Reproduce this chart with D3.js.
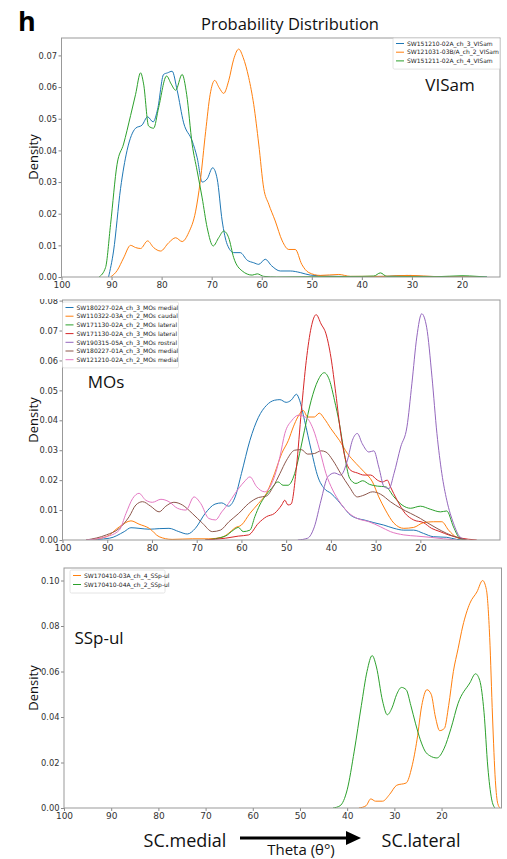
<!DOCTYPE html>
<html>
<head>
<meta charset="utf-8">
<script src="https://cdn.jsdelivr.net/npm/d3@7"></script>
<style>
  body { margin: 0; background: #fff; }
  text { font-family: "DejaVu Sans", sans-serif; }
  .big { font-family: "Open Sans", sans-serif; }
</style>
</head>
<body>
<div class="canvas"></div>
<script>
/* ----------- DATA ----------- */
// x tick labels (theta, degrees), same on every panel
const thetaTicks = [100, 90, 80, 70, 60, 50, 40, 30, 20];

// VISam panel: [theta, density]
const visamNames = ['SW151210-02A_ch_3_VISam', 'SW121031-03B/A_ch_2_VISam', 'SW151211-02A_ch_4_VISam'];
const visam151210 = [[90.6,0],[89.6,0.0082],[88.2,0.028],[86.9,0.040],[85.2,0.047],[83.9,0.048],[82.8,0.0506],[81.7,0.049],
  [80.8,0.053],[79.6,0.064],[78.8,0.0645],[77.9,0.065],[76.9,0.059],[75.6,0.0487],[73.9,0.043],[72.9,0.0377],[71.9,0.030],
  [70.9,0.031],[69.8,0.0345],[68.9,0.031],[67.9,0.0177],[66.9,0.0103],[65.6,0.0077],[64.3,0.0077],[62.9,0.0053],[61.6,0.0045],
  [60.6,0.004],[59.3,0.0056],[58.0,0.0035],[56.3,0.0019],[54.3,0.0019],[52.3,0.0014],[50.3,0.0006],[47,0.0003],[45,0.0002],
  [40,0.0001],[35,0.0002],[31,0.0005],[28,0.0002],[22,0.0001],[15,0]];
const visam121031 = [[90.2,0],[88.9,0.002],[87.6,0.006],[86.2,0.010],[85.2,0.0093],[84.2,0.009],[82.8,0.0114],[81.6,0.0093],
  [80.2,0.0082],[78.6,0.0108],[77.2,0.0124],[75.9,0.0112],[74.6,0.014],[73.2,0.0208],[72.3,0.030],[71.2,0.046],[70.3,0.0577],
  [69.4,0.0621],[68.5,0.0598],[67.6,0.058],[66.6,0.062],[65.6,0.0688],[64.6,0.072],[63.7,0.0693],[62.6,0.063],[61.6,0.0545],
  [60.6,0.042],[59.6,0.028],[58.6,0.023],[57.3,0.0177],[55.9,0.0114],[54.6,0.0087],[53.3,0.0087],[52.0,0.004],[50.6,0.0014],
  [48.3,0.0005],[44.6,0.0008],[42.3,0.0002],[36,0.0002],[33,0.0004],[30.3,0.0005],[25,0.0001],[17,0]];
const visam151211 = [[92.5,0],[91.2,0.003],[90.2,0.0166],[88.9,0.0356],[87.6,0.042],[86.2,0.051],[85.2,0.0577],[84.2,0.0645],
  [83.6,0.061],[82.6,0.0477],[81.6,0.047],[80.6,0.0535],[79.0,0.0635],[78.1,0.061],[77.2,0.059],[75.9,0.064],[75.0,0.0577],
  [73.9,0.042],[72.9,0.0335],[71.9,0.025],[70.9,0.0156],[69.7,0.0098],[68.6,0.0124],[67.6,0.0145],[66.6,0.0124],[65.6,0.0061],
  [63.9,0.0019],[61.9,0.0006],[60.9,0.001],[59.6,0.0002],[57,0],[50,0.0001],[40,0.0002],[37.6,0.0003],[36.3,0.0013],
  [35,0.0002],[25,0.0001],[20,0.0004],[17,0.0002],[15,0]];

// MOs panel
const mosNames = ['SW180227-02A_ch_3_MOs medial', 'SW110322-03A_ch_2_MOs caudal', 'SW171130-02A_ch_2_MOs lateral',
  'SW171130-02A_ch_3_MOs lateral', 'SW190315-05A_ch_3_MOs rostral', 'SW180227-01A_ch_3_MOs medial', 'SW121210-02A_ch_2_MOs medial'];
const mos180227a = [[94.7,0],[89.5,0.0006],[86.2,0.0028],[84.7,0.0041],[82.9,0.0039],[80.6,0.0036],[78.4,0.0038],[76.2,0.0039],
  [74.0,0.0028],[72.1,0.002],[70.3,0.0039],[68.1,0.0089],[65.9,0.012],[64.4,0.0124],[62.9,0.0113],[61.4,0.0144],[60.0,0.0222],
  [58.1,0.0333],[56.2,0.041],[54.4,0.045],[52.6,0.0467],[51.4,0.0469],[50.0,0.046],[48.9,0.0467],[47.7,0.0487],[47.0,0.0467],
  [45.9,0.04],[44.4,0.030],[42.9,0.0211],[41.5,0.0172],[40.0,0.0156],[38.5,0.0133],[37.0,0.0106],[35.6,0.0083],[34.1,0.0072],
  [32.6,0.0067],[30.4,0.0058],[28.2,0.005],[25.9,0.0039],[23.7,0.0033],[21.5,0.0033],[19.3,0.0022],[17.1,0.0011],[14.1,0.0009],
  [11.9,0.0002],[9.7,0]];
const mos110322 = [[94.7,0],[90.2,0.0011],[87.3,0.0044],[84.7,0.0064],[82.9,0.0053],[80.6,0.0039],[78.4,0.0011],[75.5,0.0002],
  [71.0,0.0004],[67.3,0.0004],[64.4,0.0009],[62.9,0.0022],[61.4,0.0041],[60.0,0.005],[58.1,0.0089],[56.2,0.0122],[54.4,0.0156],
  [52.6,0.0222],[51.0,0.0289],[49.5,0.0333],[48.4,0.0378],[47.4,0.0411],[46.2,0.0433],[45.2,0.0411],[43.7,0.0411],[42.6,0.0424],
  [41.5,0.0406],[40.0,0.0372],[38.1,0.0333],[36.3,0.0289],[34.4,0.0256],[32.6,0.0228],[30.7,0.0194],[29.3,0.0144],[27.8,0.01],
  [25.9,0.0056],[23.7,0.0039],[21.5,0.0042],[19.3,0.0058],[17.1,0.0061],[15.2,0.0061],[13.7,0.0033],[11.9,0.0009],[9.7,0]];
const mos171130a = [[68.1,0],[63.6,0.0013],[61.8,0.0033],[60.7,0.0042],[59.6,0.0028],[58.1,0.0033],[57.0,0.0078],[55.9,0.0117],
  [54.8,0.0144],[53.3,0.0172],[51.8,0.0194],[50.7,0.0183],[49.6,0.0183],[48.1,0.0222],[47.0,0.0289],[45.9,0.0367],[44.4,0.0467],
  [42.9,0.0533],[41.5,0.0559],[40.3,0.0533],[39.2,0.0467],[38.1,0.0389],[37.0,0.0289],[35.8,0.0206],[34.4,0.0189],[32.9,0.0198],
  [31.4,0.0186],[29.6,0.018],[27.8,0.0178],[25.9,0.0144],[24.1,0.0117],[22.2,0.0106],[20.0,0.0113],[17.8,0.0103],[15.5,0.0094],
  [14.1,0.0097],[12.6,0.0044],[11.2,0.0006],[9.7,0]];
const mos171130b = [[68.1,0],[63.6,0.0006],[60.7,0.0013],[58.4,0.0017],[56.2,0.0056],[54.4,0.0078],[52.6,0.0089],[51.0,0.0117],
  [50.3,0.0133],[49.6,0.0117],[48.9,0.012],[47.7,0.0244],[46.6,0.0433],[45.5,0.06],[44.4,0.0711],[43.3,0.0753],[42.2,0.0722],
  [41.1,0.0689],[40.0,0.0611],[38.9,0.0489],[37.8,0.0356],[36.7,0.0267],[35.6,0.0233],[34.1,0.0224],[32.6,0.0217],[31.1,0.0217],
  [29.6,0.02],[28.5,0.0194],[27.4,0.02],[26.7,0.0178],[25.2,0.0133],[23.4,0.0089],[21.5,0.0067],[19.3,0.0058],[17.5,0.0039],
  [15.6,0.0028],[13.7,0.0017],[11.2,0.0007],[7.4,0]];
const mos190315 = [[47.4,0],[45.2,0.0006],[43.7,0.0044],[42.2,0.0133],[40.7,0.0211],[39.2,0.0224],[37.8,0.0217],[36.3,0.0267],
  [35.2,0.0333],[34.1,0.0356],[33.0,0.0322],[31.5,0.0294],[30.4,0.0298],[29.3,0.0244],[28.1,0.0178],[27.0,0.0172],[25.9,0.0222],
  [24.4,0.0311],[23.0,0.0378],[21.9,0.0522],[20.8,0.0678],[19.7,0.0756],[18.6,0.0711],[17.4,0.0544],[16.3,0.0356],[15.2,0.0222],
  [14.1,0.0133],[12.6,0.0056],[11.2,0.0011],[9.7,0]];
const mos180227b = [[94.7,0],[90.2,0.0017],[87.3,0.0039],[85.1,0.0078],[83.6,0.0117],[82.1,0.0128],[80.3,0.0113],[78.4,0.0094],
  [76.9,0.0113],[75.1,0.0126],[73.2,0.0117],[71.0,0.0089],[68.7,0.0056],[66.5,0.0028],[64.7,0.0033],[62.8,0.0061],[60.6,0.0089],
  [58.4,0.0122],[56.2,0.0142],[54.4,0.0147],[52.9,0.0178],[51.4,0.0222],[49.9,0.0267],[48.1,0.03],[46.6,0.0302],[45.2,0.0287],
  [43.7,0.0289],[42.2,0.0298],[41.1,0.0294],[39.6,0.0267],[37.8,0.0222],[35.9,0.0178],[34.1,0.0144],[32.6,0.015],[30.7,0.0161],
  [28.9,0.0153],[26.7,0.0128],[24.4,0.0106],[22.2,0.0089],[20.0,0.0072],[18.5,0.0058],[16.3,0.0039],[14.1,0.0022],[11.9,0.0009],
  [9.7,0]];
const mos121210 = [[94.7,0],[90.2,0.0011],[87.3,0.0033],[85.8,0.0089],[84.3,0.0139],[82.9,0.0156],[81.4,0.0133],[79.9,0.0126],
  [78.0,0.0136],[76.2,0.0128],[74.3,0.0106],[72.4,0.01],[70.6,0.0144],[69.1,0.0122],[67.3,0.0072],[65.8,0.0067],[64.4,0.0094],
  [62.9,0.0122],[61.4,0.0156],[59.4,0.0194],[58.1,0.0211],[56.6,0.0178],[54.8,0.0161],[52.9,0.02],[51.4,0.0278],[50.3,0.0356],
  [48.7,0.04],[47.3,0.0417],[45.5,0.0409],[44.0,0.0372],[42.5,0.03],[41.1,0.0222],[39.6,0.0167],[37.8,0.0122],[35.9,0.0089],
  [34.1,0.0072],[31.5,0.0061],[28.9,0.0044],[26.7,0.0028],[23.7,0.0017],[20.8,0.0013],[17.8,0.0009],[14.8,0.0004],[11.9,0]];

// SSp-ul panel
const sspNames = ['SW170410-03A_ch_4_SSp-ul', 'SW170410-04A_ch_2_SSp-ul'];
const ssp03A = [[37.5,0],[36,0.001],[35,0.004],[34,0.003],[32.5,0.003],[31,0.006],[29.5,0.01],[27.5,0.011],[26.3,0.018],
  [25.2,0.03],[24.2,0.045],[23.1,0.052],[22.2,0.05],[21.3,0.04],[20.4,0.034],[19.4,0.035],[18.5,0.045],[17.5,0.06],
  [16.5,0.07],[15.5,0.08],[14,0.09],[12.5,0.095],[11.3,0.1],[10.5,0.096],[9.8,0.075],[9.2,0.04],[8.6,0.012],[8.1,0.002],[7.6,0]];
const ssp04A = [[43,0],[41.5,0.001],[40,0.008],[38.5,0.025],[37,0.045],[35.8,0.06],[34.7,0.067],[33.8,0.062],[32.5,0.047],
  [31.5,0.041],[30.5,0.044],[29.5,0.05],[28.5,0.053],[27.5,0.052],[26.5,0.045],[25.5,0.037],[24.5,0.03],[23.5,0.025],
  [22.5,0.023],[21,0.022],[19.5,0.026],[18,0.035],[16.5,0.046],[14,0.055],[12.8,0.059],[11.9,0.056],[11,0.042],
  [10.2,0.018],[9.4,0.004],[8.7,0]];

/* ----------- LAYOUT ----------- */
const tab10 = ['#1f77b4', '#ff7f0e', '#2ca02c', '#d62728', '#9467bd', '#8c564b', '#e377c2'];

const panels = [
  { box: [61.5, 500, 38, 277], xdom: [100, 12.4], ydom: [0, 0.0755], yticks: d3.range(0, 0.0751, 0.01),
    series: [visam151210, visam121031, visam151211], names: visamNames, colors: tab10.slice(0, 3),
    label: 'VISam', labelPos: [450, 91], legend: { x: 393, y: 38, w: 107, row: 8.7 }, labelAt: 157 },
  { box: [62.5, 500, 300, 540], xdom: [100, 2.2], ydom: [0, 0.0802], yticks: d3.range(0, 0.0801, 0.01),
    series: [mos180227a, mos110322, mos171130a, mos171130b, mos190315, mos180227b, mos121210], names: mosNames, colors: tab10,
    label: 'MOs', labelPos: [106, 388], legend: { x: 62.5, y: 302, w: 116, row: 8.7 }, labelAt: 420 },
  { box: [64, 501.5, 568, 808], xdom: [100, 7.3], ydom: [0, 0.1055], yticks: d3.range(0, 0.1001, 0.02),
    series: [ssp03A, ssp04A], names: sspNames, colors: [tab10[1], tab10[2]],
    label: 'SSp-ul', labelPos: [99, 644], legend: { x: 70, y: 570, w: 95, row: 9 }, labelAt: 688 }
];

const svg = d3.select('.canvas')
  .append('svg')
  .attr('width', 507)
  .attr('height', 859);

svg.append('rect').attr('width', 507).attr('height', 859).attr('fill', '#fff');

/* ----------- PANELS ----------- */
panels.forEach((p, i) => {
  const [x0, x1, y0, y1] = p.box;
  const x = d3.scaleLinear().domain(p.xdom).range([x0, x1]);
  const y = d3.scaleLinear().domain(p.ydom).range([y1, y0]);
  const g = svg.append('g');

  g.append('clipPath').attr('id', 'clip' + i)
    .append('rect').attr('x', x0).attr('y', y0).attr('width', x1 - x0).attr('height', y1 - y0);

  // axes
  const xAxis = d3.axisBottom(x).tickValues(thetaTicks).tickSize(3).tickPadding(1.5);
  const yAxis = d3.axisLeft(y).tickValues(p.yticks).tickSize(3).tickPadding(1.5).tickFormat(d3.format('.2f'));

  const xg = g.append('g').attr('transform', `translate(0,${y1})`).call(xAxis);
  const yg = g.append('g').attr('transform', `translate(${x0},0)`).call(yAxis);
  [xg, yg].forEach(a => {
    a.select('.domain').remove();
    a.selectAll('line').attr('stroke', '#888');
    a.selectAll('text').attr('fill', '#333').style('font-size', '8.3px');
  });
  xg.selectAll('text').style('font-size', '9px');

  // curves
  const line = d3.line()
    .x(d => x(d[0]))
    .y(d => y(d[1]))
    .curve(d3.curveMonotoneX);

  g.append('g').attr('clip-path', `url(#clip${i})`)
    .selectAll('path')
    .data(p.series)
    .enter()
    .append('path')
    .attr('d', line)
    .attr('fill', 'none')
    .attr('stroke', (d, k) => p.colors[k])
    .attr('stroke-width', 1);

  // frame
  g.append('rect')
    .attr('x', x0).attr('y', y0)
    .attr('width', x1 - x0).attr('height', y1 - y0)
    .attr('fill', 'none').attr('stroke', '#999').attr('stroke-width', 1);

  // y label
  g.append('text')
    .attr('class', 'big')
    .attr('transform', `translate(38,${p.labelAt}) rotate(-90)`)
    .attr('text-anchor', 'middle')
    .style('font-size', '13px')
    .attr('fill', '#111')
    .text('Density');

  // panel name
  g.append('text')
    .attr('class', 'big')
    .attr('x', p.labelPos[0]).attr('y', p.labelPos[1])
    .attr('text-anchor', 'middle')
    .style('font-size', '17px')
    .attr('fill', '#111')
    .text(p.label);

  // legend
  const L = p.legend;
  const lg = g.append('g');
  lg.append('rect')
    .attr('x', L.x).attr('y', L.y)
    .attr('width', L.w).attr('height', p.names.length * L.row + 5)
    .attr('fill', '#fff').attr('fill-opacity', 0.8)
    .attr('stroke', '#ddd').attr('stroke-width', 0.8).attr('rx', 1.5);
  p.names.forEach((n, k) => {
    const ly = L.y + 5.5 + k * L.row;
    lg.append('line')
      .attr('x1', L.x + 3).attr('x2', L.x + 11)
      .attr('y1', ly).attr('y2', ly)
      .attr('stroke', p.colors[k]).attr('stroke-width', 1);
    lg.append('text')
      .attr('x', L.x + 14).attr('y', ly + 2.2)
      .style('font-size', '6px')
      .attr('fill', '#222')
      .text(n);
  });
});

// hide top of the clipped 0.08 label like the reference
svg.append('rect').attr('x', 30).attr('y', 288).attr('width', 31).attr('height', 11).attr('fill', '#fff');

/* ----------- TITLES & ANNOTATION ----------- */
svg.append('text')
  .attr('x', 18).attr('y', 31)
  .style('font-family', 'Open Sans, sans-serif')
  .style('font-weight', 'bold')
  .style('font-size', '27px')
  .attr('fill', '#000')
  .text('h');

svg.append('text')
  .attr('class', 'big')
  .attr('x', 290).attr('y', 30)
  .attr('text-anchor', 'middle')
  .style('font-size', '16.5px')
  .attr('fill', '#111')
  .text('Probability Distribution');

svg.append('text')
  .attr('class', 'big')
  .attr('x', 185).attr('y', 847)
  .attr('text-anchor', 'middle')
  .style('font-size', '18px')
  .attr('fill', '#111')
  .text('SC.medial');

svg.append('text')
  .attr('class', 'big')
  .attr('x', 421).attr('y', 847)
  .attr('text-anchor', 'middle')
  .style('font-size', '18px')
  .attr('fill', '#111')
  .text('SC.lateral');

svg.append('text')
  .attr('class', 'big')
  .attr('x', 301).attr('y', 855)
  .attr('text-anchor', 'middle')
  .style('font-size', '15px')
  .attr('fill', '#111')
  .text('Theta (θ°)');

// arrow
svg.append('line')
  .attr('x1', 240).attr('x2', 350)
  .attr('y1', 838).attr('y2', 838)
  .attr('stroke', '#000').attr('stroke-width', 3);
svg.append('path')
  .attr('d', 'M346,831 L361,838 L346,845 Z')
  .attr('fill', '#000');
</script>
</body>
</html>
